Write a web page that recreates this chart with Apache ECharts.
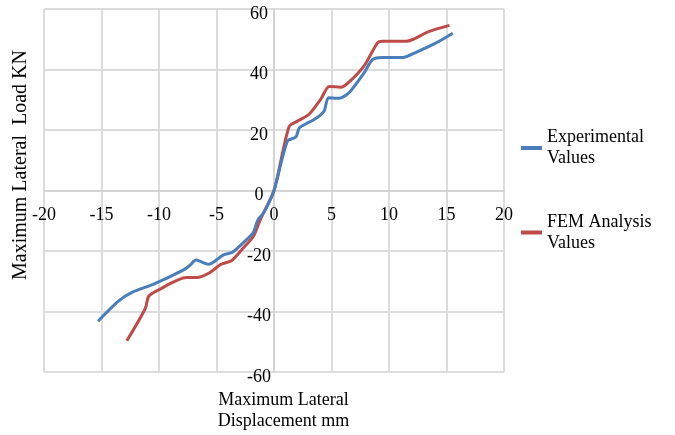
<!DOCTYPE html>
<html>
<head>
<meta charset="utf-8">
<script src="https://cdn.jsdelivr.net/npm/echarts@6/dist/echarts.min.js"></script>
<style>html,body{margin:0;padding:0;background:#fff;}#c{width:675px;height:435px;}</style>
</head>
<body>
<div id="c"></div>
<script>
var xTicks = [-20, -15, -10, -5, 0, 5, 10, 15, 20];
var yTicks = [-60, -40, -20, 0, 20, 40, 60];

var expX = [-15.3, -13.5, -12.3, -10.5, -7.9, -7.3, -6.8, -5.7, -4.4, -3.6, -2.4, -1.8, -1.4, -0.9, 0, 1.16, 1.9, 2.2, 2.76, 3.6, 4.36, 4.74, 5.67, 6.54, 7.85, 8.57, 9.44, 11.2, 12.35, 14.1, 15.55];
var expY = [-43.2, -36.5, -33.6, -31.0, -26.3, -24.7, -23.0, -24.4, -21.3, -20.4, -16.3, -13.9, -9.7, -7.4, 0, 16.3, 17.7, 20.7, 22.0, 23.7, 26.3, 30.7, 30.5, 32.4, 39.0, 43.3, 44.0, 44.0, 45.7, 48.8, 52.0];

var femX = [-12.8, -11.2, -10.9, -10.2, -7.6, -6.7, -5.6, -4.6, -3.7, -2.7, -1.8, -1.2, 0, 1.31, 2.18, 3.05, 4.07, 4.8, 5.8, 6.54, 7.85, 9.0, 9.44, 11.5, 12.1, 13.5, 15.26];
var femY = [-49.7, -39.1, -35.0, -33.2, -28.8, -28.8, -27.2, -24.4, -23.2, -19.1, -15.2, -9.7, 0, 21.1, 23.2, 25.2, 30.2, 34.4, 34.1, 35.9, 41.3, 48.8, 49.3, 49.3, 50.0, 52.6, 54.6];

var seriesNames = ['Experimental\nValues', 'FEM Analysis\nValues'];
var xTitle = 'Maximum Lateral\nDisplacement mm';
var yTitle = 'Maximum Lateral  Load KN';

function pairs(xs, ys) { return xs.map(function (x, i) { return [x, ys[i]]; }); }

var FONT = "'Liberation Serif', 'Times New Roman', serif";
var GL = 44, GR = 171, GT = 9, GB = 63, W = 675, H = 435;
var gw = W - GL - GR, gh = H - GT - GB;
var chart = echarts.init(document.getElementById('c'), null, { renderer: 'canvas' });
chart.setOption({
  backgroundColor: '#ffffff',
  animation: false,
  grid: { left: GL, right: GR, top: GT, bottom: GB, containLabel: false },
  xAxis: {
    type: 'value', min: xTicks[0], max: xTicks[xTicks.length - 1], interval: 5,
    position: 'bottom', offset: -gh * (0 - yTicks[0]) / (yTicks[yTicks.length - 1] - yTicks[0]),
    axisLine: { onZero: false, lineStyle: { color: '#d4d4d4', width: 2 } },
    axisTick: { show: false },
    splitLine: { show: true, lineStyle: { color: '#dcdcdc', width: 2 } },
    axisLabel: { fontFamily: FONT, fontSize: 18, color: '#000', margin: 16 }
  },
  yAxis: {
    type: 'value', min: yTicks[0], max: yTicks[yTicks.length - 1], interval: 20,
    position: 'left', offset: -gw * (0 - xTicks[0]) / (xTicks[xTicks.length - 1] - xTicks[0]),
    axisLine: { onZero: false, lineStyle: { color: '#d4d4d4', width: 2 } },
    axisTick: { show: false },
    splitLine: { show: true, lineStyle: { color: '#dcdcdc', width: 2 } },
    axisLabel: { fontFamily: FONT, fontSize: 18, color: '#000', margin: 15, align: 'center', verticalAlign: 'top', lineHeight: 10 }
  },
  legend: {
    orient: 'vertical', left: 516, top: 114, itemGap: 29,
    itemWidth: 21, itemHeight: 4, icon: 'rect',
    textStyle: { fontFamily: FONT, fontSize: 18, color: '#000', lineHeight: 21 },
    data: [
      { name: seriesNames[0], textStyle: { padding: [16, 0, 0, 0] } },
      { name: seriesNames[1], textStyle: { padding: [11, 0, 0, 0] } }
    ]
  },
  graphic: [
    { type: 'text', style: { text: xTitle, font: '18px ' + FONT, fill: '#000', textAlign: 'center', textVerticalAlign: 'middle', lineHeight: 21 }, position: [283.5, 411] },
    { type: 'text', style: { text: yTitle, font: '20px ' + FONT, fill: '#000', textAlign: 'center', textVerticalAlign: 'middle' }, position: [21, 165], rotation: Math.PI / 2 }
  ],
  series: [
    {
      name: seriesNames[1], type: 'line', data: pairs(femX, femY), smooth: 0.25,
      showSymbol: false, symbol: 'none', z: 2,
      lineStyle: { color: '#be4b48', width: 3 }, itemStyle: { color: '#be4b48' }
    },
    {
      name: seriesNames[0], type: 'line', data: pairs(expX, expY), smooth: 0.25,
      showSymbol: false, symbol: 'none', z: 3,
      lineStyle: { color: '#4a7ebb', width: 3 }, itemStyle: { color: '#4a7ebb' }
    }
  ]
});
</script>
</body>
</html>
